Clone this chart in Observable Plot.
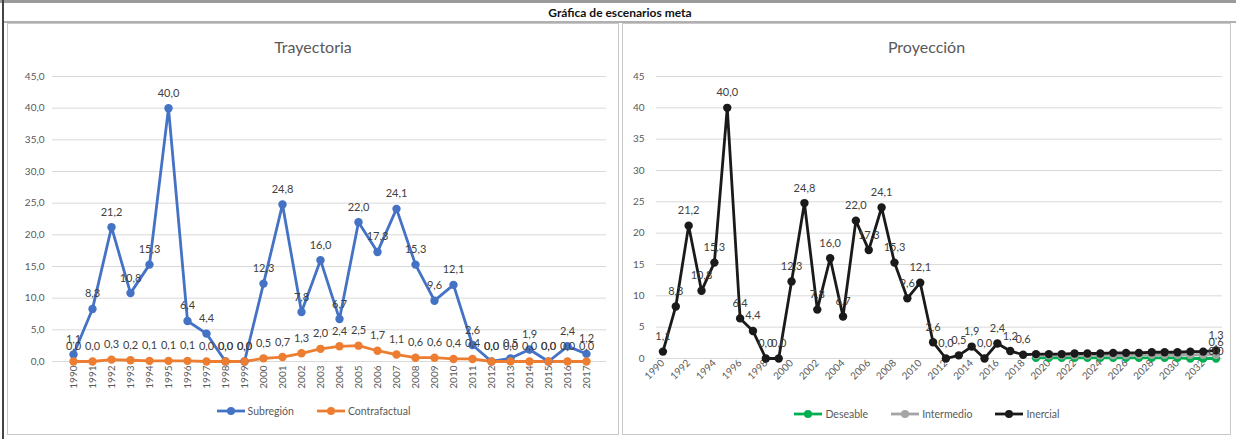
<!DOCTYPE html>
<html>
<head>
<meta charset="utf-8">
<script src="https://cdn.jsdelivr.net/npm/d3@7"></script>
<script src="https://cdn.jsdelivr.net/npm/@observablehq/plot@0.6"></script>
<style>
  html, body { margin: 0; padding: 0; background: #fff; }
  body { width: 1236px; height: 439px; position: relative; overflow: hidden; font-family: Lato, "Open Sans", sans-serif; }
  .abs { position: absolute; }
  .frame-top { left: 0; top: 0; width: 1236px; height: 3px; background: #9a9a9a; }
  .frame-left { left: 2px; top: 0; width: 2px; height: 439px; background: #444; }
  .titlebar { left: 4px; top: 3px; width: 1232px; height: 18px; border-bottom: 2px solid #b0b0b0; text-align: center; font-weight: bold; font-size: 12px; line-height: 19px; color: #111; }
  .panel { top: 23px; height: 412px; border: 1px solid #c8c8c8; box-sizing: border-box; }
  .ptitle { font-size: 16px; color: #595959; text-align: center; }
  .legend { display: flex; gap: 22px; font-size: 10.5px; color: #595959; align-items: center; }
  .legend .item { display: flex; align-items: center; gap: 2px; }
</style>
</head>
<body>
<div class="abs frame-top"></div>
<div class="abs frame-left"></div>
<div class="abs titlebar">Gráfica de escenarios meta</div>
<div class="abs panel" style="left:7px;width:612px;"></div>
<div class="abs panel" style="left:622px;width:609px;"></div>
<div class="abs ptitle" style="left:7px;width:612px;top:37px;">Trayectoria</div>
<div class="abs ptitle" style="left:622px;width:609px;top:37px;">Proyección</div>
<div id="left" class="abs" style="left:7px;top:23px;"></div>
<div id="right" class="abs" style="left:622px;top:23px;"></div>
<div id="legL" class="abs legend" style="left:0;width:626px;top:405px;justify-content:center;"></div>
<div id="legR" class="abs legend" style="left:622px;width:609px;top:408px;justify-content:center;"></div>
<script>
// ---- Data ----
const yearsHist = [1990,1991,1992,1993,1994,1995,1996,1997,1998,1999,2000,2001,2002,2003,2004,2005,2006,2007,2008,2009,2010,2011,2012,2013,2014,2015,2016,2017];
const subregion = [1.1,8.3,21.2,10.8,15.3,40.0,6.4,4.4,0.0,0.0,12.3,24.8,7.8,16.0,6.7,22.0,17.3,24.1,15.3,9.6,12.1,2.6,0.0,0.5,1.9,0.0,2.4,1.2];
const contrafactual = [0.0,0.0,0.3,0.2,0.1,0.1,0.1,0.0,0.0,0.0,0.5,0.7,1.3,2.0,2.4,2.5,1.7,1.1,0.6,0.6,0.4,0.4,0.0,0.0,0.0,0.0,0.0,0.0];

const yearsProj = [1990,1991,1992,1993,1994,1995,1996,1997,1998,1999,2000,2001,2002,2003,2004,2005,2006,2007,2008,2009,2010,2011,2012,2013,2014,2015,2016,2017,2018,2019,2020,2021,2022,2023,2024,2025,2026,2027,2028,2029,2030,2031,2032,2033];
const inercial = [1.1,8.3,21.2,10.8,15.3,40.0,6.4,4.4,0.0,0.0,12.3,24.8,7.8,16.0,6.7,22.0,17.3,24.1,15.3,9.6,12.1,2.6,0.0,0.5,1.9,0.0,2.4,1.2,0.6,0.7,0.7,0.7,0.8,0.8,0.8,0.9,0.9,0.9,1.0,1.0,1.0,1.1,1.1,1.3];
const yearsScen = [2019,2020,2021,2022,2023,2024,2025,2026,2027,2028,2029,2030,2031,2032,2033];
const intermedio = [0.5,0.5,0.5,0.5,0.5,0.5,0.5,0.5,0.6,0.6,0.6,0.6,0.6,0.6,0.6];
const deseable = [0.1,0.1,0.1,0.1,0.1,0.1,0.1,0.1,0.1,0.1,0.1,0.1,0.0,0.0,0.0];
const labeledProjYears = [1990,1991,1992,1993,1994,1995,1996,1997,1998,1999,2000,2001,2002,2003,2004,2005,2006,2007,2008,2009,2010,2011,2012,2013,2014,2015,2016,2017,2018,2033];

const yTicks = [0,5,10,15,20,25,30,35,40,45];
const projTicks = [1990,1992,1994,1996,1998,2000,2002,2004,2006,2008,2010,2012,2014,2016,2018,2020,2022,2024,2026,2028,2030,2032];

const BLUE = "#4472C4", ORANGE = "#ED7D31", BLACK = "#1a1a1a", GRAY = "#A5A5A5", GREEN = "#00B050";
const fmt1 = v => v.toFixed(1).replace(".", ",");
const yearFmt = d => String(d);

// ---- tables ----
const leftData = [
  ...yearsHist.map((y, i) => ({year: y, value: subregion[i], s: "Subregión"})),
  ...yearsHist.map((y, i) => ({year: y, value: contrafactual[i], s: "Contrafactual"}))
];
const rightData = [
  ...yearsScen.map((y, i) => ({year: y, value: deseable[i], s: "Deseable"})),
  ...yearsScen.map((y, i) => ({year: y, value: intermedio[i], s: "Intermedio"})),
  ...yearsProj.map((y, i) => ({year: y, value: inercial[i], s: "Inercial"}))
];
const inercialLabels = rightData.filter(d => d.s === "Inercial" && labeledProjYears.includes(d.year));
const intermedioLabels = rightData.filter(d => d.s === "Intermedio" && d.year === 2033);
const deseableLabels = rightData.filter(d => d.s === "Deseable" && d.year === 2033);

const common = {
  style: {fontFamily: "Lato, 'Open Sans', sans-serif", fontSize: "10px", color: "#595959", background: "transparent", overflow: "visible"}
};

// ---- Left chart ----
const left = Plot.plot({
  ...common,
  width: 612, height: 375,
  marginLeft: 45, marginRight: 13, marginTop: 53, marginBottom: 37,
  x: {type: "point", domain: yearsHist, padding: 0.5, label: null},
  y: {domain: [0, 45], label: null},
  color: {domain: ["Subregión", "Contrafactual"], range: [BLUE, ORANGE]},
  marks: [
    Plot.gridY(yTicks, {stroke: "#d9d9d9", strokeOpacity: 1, strokeWidth: 1}),
    Plot.axisX({tickSize: 0, tickRotate: -90, tickPadding: 4, fill: "#595959", fontSize: 10, label: null, tickFormat: yearFmt}),
    Plot.axisY({ticks: yTicks, tickFormat: fmt1, tickSize: 0, tickPadding: 8, fill: "#595959", fontSize: 10, label: null}),
    Plot.line(leftData, {x: "year", y: "value", z: "s", stroke: "s", strokeWidth: 2.8}),
    Plot.dot(leftData, {x: "year", y: "value", fill: "s", r: 4.2, stroke: "none"}),
    Plot.text(leftData, {x: "year", y: "value", text: d => fmt1(d.value), dy: -15, fill: "#404040", fontSize: 11})
  ]
});
document.getElementById("left").appendChild(left);

// ---- Right chart ----
const right = Plot.plot({
  ...common,
  width: 609, height: 375,
  marginLeft: 34, marginRight: 9, marginTop: 53, marginBottom: 40,
  x: {type: "point", domain: yearsProj, padding: 0.5, label: null},
  y: {domain: [0, 45], label: null},
  color: {domain: ["Deseable", "Intermedio", "Inercial"], range: [GREEN, GRAY, BLACK]},
  marks: [
    Plot.gridY(yTicks, {stroke: "#d9d9d9", strokeOpacity: 1, strokeWidth: 1}),
    Plot.axisX(projTicks, {tickSize: 0, tickRotate: -45, tickPadding: 3, fill: "#595959", fontSize: 10, label: null, tickFormat: yearFmt}),
    Plot.axisY({ticks: yTicks, tickFormat: yearFmt, tickSize: 0, tickPadding: 12, fill: "#595959", fontSize: 10, label: null}),
    Plot.line(rightData, {x: "year", y: "value", z: "s", stroke: "s", strokeWidth: 2.8}),
    Plot.dot(rightData, {x: "year", y: "value", fill: "s", r: 4.2, stroke: "none"}),
    Plot.text(inercialLabels, {x: "year", y: "value", text: d => fmt1(d.value), dy: -15, fill: "#404040", fontSize: 11}),
    Plot.text(intermedioLabels, {x: "year", y: "value", text: d => fmt1(d.value), dy: -12, fill: "#404040", fontSize: 11}),
    Plot.text(deseableLabels, {x: "year", y: "value", text: d => fmt1(d.value), dy: -7, fill: "#404040", fontSize: 11})
  ]
});
document.getElementById("right").appendChild(right);

// ---- Legends ----
function legend(el, items) {
  const root = document.getElementById(el);
  for (const [name, color] of items) {
    const it = document.createElement("div");
    it.className = "item";
    it.innerHTML = `<svg width="30" height="10"><line x1="1" x2="29" y1="5" y2="5" stroke="${color}" stroke-width="2.8"/><circle cx="15" cy="5" r="4" fill="${color}"/></svg><span>${name}</span>`;
    root.appendChild(it);
  }
}
legend("legL", [["Subregión", BLUE], ["Contrafactual", ORANGE]]);
legend("legR", [["Deseable", GREEN], ["Intermedio", GRAY], ["Inercial", BLACK]]);
</script>
</body>
</html>
